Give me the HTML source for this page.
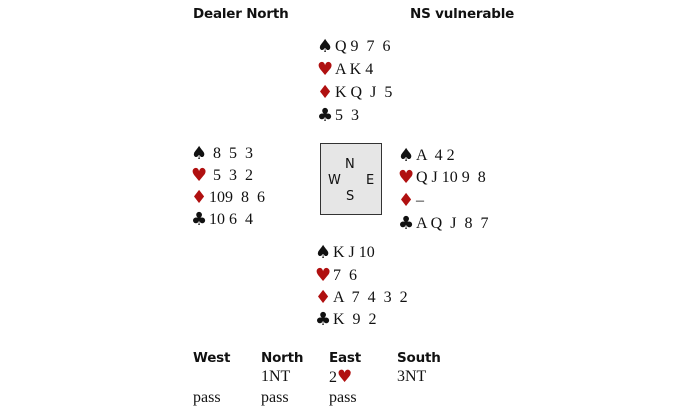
<!DOCTYPE html><html><head><style>
body{margin:0;width:700px;height:413px;background:#fff;position:relative;overflow:hidden;font-family:"Liberation Serif",serif;font-size:16px;color:#111}
.a{position:absolute;white-space:pre;line-height:18px}
.h{font-family:"DejaVu Sans","Liberation Sans",sans-serif;font-weight:bold;font-size:13.5px;letter-spacing:-0.2px}
.r{color:#b01010}
.s{font-size:18px;display:inline-block;width:18px;line-height:18px;vertical-align:top;font-family:"DejaVu Sans",sans-serif}
#box{position:absolute;left:320px;top:143px;width:60px;height:70px;background:#e6e6e6;border:1.5px solid #333}
.c{position:absolute;font-family:"DejaVu Sans",sans-serif;font-size:13px}
</style></head><body>
<div class="a h" style="left:193px;top:5px">Dealer North</div>
<div class="a h" style="left:410px;top:5px">NS vulnerable</div>

<div class="a" style="left:317px;top:38px"><span class="s">♠</span>Q 9  7  6</div>
<div class="a" style="left:317px;top:61px"><span class="s r">♥</span>A K 4</div>
<div class="a" style="left:317px;top:84px"><span class="s r">♦</span>K Q  J  5</div>
<div class="a" style="left:317px;top:107px"><span class="s">♣</span>5  3</div>

<div class="a" style="left:191px;top:145px"><span class="s">♠</span> 8  5  3</div>
<div class="a" style="left:191px;top:167px"><span class="s r">♥</span> 5  3  2</div>
<div class="a" style="left:191px;top:189px"><span class="s r">♦</span>109  8  6</div>
<div class="a" style="left:191px;top:211px"><span class="s">♣</span>10 6  4</div>

<div id="box"></div>
<div class="c" style="left:345px;top:157px">N</div>
<div class="c" style="left:328px;top:173px">W</div>
<div class="c" style="left:366px;top:173px">E</div>
<div class="c" style="left:346px;top:189px">S</div>

<div class="a" style="left:398px;top:147px"><span class="s">♠</span>A  4 2</div>
<div class="a" style="left:398px;top:169px"><span class="s r">♥</span>Q J 10 9  8</div>
<div class="a" style="left:398px;top:192px"><span class="s r">♦</span>–</div>
<div class="a" style="left:398px;top:215px"><span class="s">♣</span>A Q  J  8  7</div>

<div class="a" style="left:315px;top:244px"><span class="s">♠</span>K J 10</div>
<div class="a" style="left:315px;top:267px"><span class="s r">♥</span>7  6</div>
<div class="a" style="left:315px;top:289px"><span class="s r">♦</span>A  7  4  3  2</div>
<div class="a" style="left:315px;top:311px"><span class="s">♣</span>K  9  2</div>

<div class="a h" style="left:193px;top:349px">West</div>
<div class="a h" style="left:261px;top:349px">North</div>
<div class="a h" style="left:329px;top:349px">East</div>
<div class="a h" style="left:397px;top:349px">South</div>
<div class="a" style="left:261px;top:368px">1NT</div>
<div class="a" style="left:329px;top:368px">2<span class="r" style="font-size:17px;font-family:'DejaVu Sans',sans-serif;line-height:18px">♥</span></div>
<div class="a" style="left:397px;top:368px">3NT</div>
<div class="a" style="left:193px;top:389px">pass</div>
<div class="a" style="left:261px;top:389px">pass</div>
<div class="a" style="left:329px;top:389px">pass</div>
</body></html>
